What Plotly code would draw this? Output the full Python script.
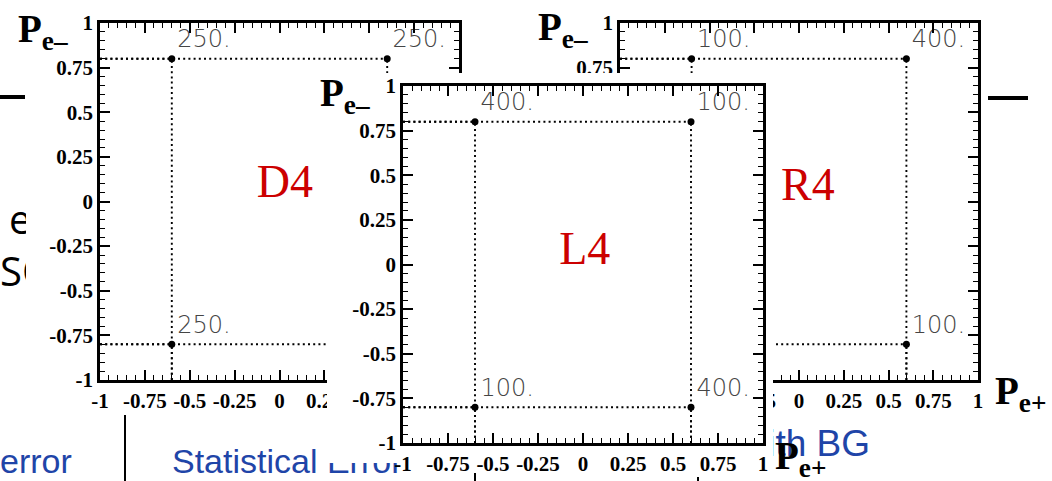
import plotly.graph_objects as go

W, H = 1052, 481

# Beam polarisation of the four running configurations (P_e+, P_e-)
pos_pol = [-0.6, 0.6, -0.6, 0.6]
ele_pol = [0.8, 0.8, -0.8, -0.8]

# Luminosity share (fb^-1) per configuration for each run scenario
lumi_D4 = [250, 250, 250, 250]
lumi_R4 = [100, 400, 400, 100]
lumi_L4 = [400, 100, 100, 400]

tick_vals = [-1, -0.75, -0.5, -0.25, 0, 0.25, 0.5, 0.75, 1]
tick_text = ["-1", "-0.75", "-0.5", "-0.25", "0", "0.25", "0.5", "0.75", "1"]

BLUE = "#1f45a8"
RED = "#cc0000"


def xdom(a, b):
    return [a / W, b / W]


def ydom(top, bottom):
    return [1 - bottom / H, 1 - top / H]


fig = go.Figure()

# ---- slide layer behind the panels -------------------------------------
slide_texts = [
    ("error", 0, 464, "middle right", 34, BLUE, "Liberation Sans"),
    ("Statistical Error", 172, 464, "middle right", 34, BLUE, "Liberation Sans"),
    ("with BG", 870, 447, "middle left", 37, BLUE, "Liberation Sans"),
    ("e", 9, 224, "middle right", 40, "black", "Open Sans"),
    ("SO", 0, 276, "middle right", 40, "black", "Open Sans"),
]
for txt, x, y, tp, size, col, fam in slide_texts:
    fig.add_trace(go.Scatter(
        x=[x], y=[y], mode="text", text=[txt], textposition=tp,
        textfont=dict(family=fam, size=size, color=col),
        xaxis="x", yaxis="y", hoverinfo="skip", cliponaxis=False))


def blank(n):
    # an empty subplot whose white background acts as a panel sheet
    fig.add_trace(go.Scatter(x=[0], y=[0], mode="markers",
                             marker=dict(opacity=0), hoverinfo="skip",
                             xaxis=f"x{n}", yaxis=f"y{n}"))


def panel(n, lumi, tag, tag_x, tag_y):
    xs, ys = [], []
    for px, py in zip(pos_pol, ele_pol):
        xs += [px, px, None, -1, px, None]
        ys += [-1, py, None, py, py, None]
    fig.add_trace(go.Scatter(
        x=xs, y=ys, mode="lines",
        line=dict(color="black", width=1.9, dash="2px,3.2px"),
        xaxis=f"x{n}", yaxis=f"y{n}", hoverinfo="skip"))
    fig.add_trace(go.Scatter(
        x=pos_pol, y=ele_pol, mode="markers+text",
        text=[f"{v}." for v in lumi], textposition="top right",
        marker=dict(color="black", size=7),
        textfont=dict(family="DejaVu Sans", size=24, color="#454545", weight=200),
        xaxis=f"x{n}", yaxis=f"y{n}", cliponaxis=False, hoverinfo="skip"))
    fig.add_trace(go.Scatter(
        x=[tag_x], y=[tag_y], mode="text", text=[tag],
        textfont=dict(family="Liberation Serif", size=46, color=RED),
        xaxis=f"x{n}", yaxis=f"y{n}", cliponaxis=False, hoverinfo="skip"))


blank(2)
panel(3, lumi_D4, "D4", 0.03, 0.09)
panel(4, lumi_R4, "R4", 0.05, 0.075)
blank(5)
panel(6, lumi_L4, "L4", 0.01, 0.065)

hidden = dict(visible=False, fixedrange=True)
frame_axis = dict(
    range=[-1, 1], showline=True, linecolor="black", linewidth=2.5,
    mirror="allticks", ticks="inside", ticklen=10, tickwidth=1.5,
    tickcolor="black", tickmode="array", tickvals=tick_vals,
    ticktext=tick_text,
    tickfont=dict(family="Liberation Serif", size=21, color="black",
                  weight="bold"),
    showgrid=False, zeroline=False, fixedrange=True,
    minor=dict(ticks="inside", ticklen=5, tickwidth=1.2, tickcolor="black",
               tickmode="linear", tick0=0, dtick=0.05, showgrid=False),
)

fig.update_layout(
    width=W, height=H,
    margin=dict(l=0, r=0, t=0, b=0, autoexpand=False),
    paper_bgcolor="white", plot_bgcolor="white", showlegend=False,
    xaxis=dict(domain=[0, 1], range=[0, W], **hidden),
    yaxis=dict(domain=[0, 1], range=[H, 0], **hidden),
    xaxis2=dict(domain=xdom(26, 464), anchor="y2", **hidden),
    yaxis2=dict(domain=ydom(4, 412), anchor="x2", **hidden),
    xaxis3=dict(domain=xdom(100, 459), anchor="y3", **frame_axis),
    yaxis3=dict(domain=ydom(23, 380), anchor="x3", **frame_axis),
    xaxis4=dict(domain=xdom(620, 978), anchor="y4", **frame_axis),
    yaxis4=dict(domain=ydom(23, 380), anchor="x4", **frame_axis),
    xaxis5=dict(domain=xdom(327, 773), anchor="y5", **hidden),
    yaxis5=dict(domain=ydom(73, 463), anchor="x5", **hidden),
    xaxis6=dict(domain=xdom(403, 763), anchor="y6", **frame_axis),
    yaxis6=dict(domain=ydom(86, 443), anchor="x6", **frame_axis),
)

# slide rules and separators
for x0, y0, x1, y1, w in [(0, 97, 25, 97, 4), (988, 98, 1028, 98, 4),
                          (125, 415, 125, 481, 2), (475, 473, 475, 481, 2),
                          (698, 477, 698, 481, 2)]:
    fig.add_shape(type="line", xref="paper", yref="paper",
                  x0=x0 / W, x1=x1 / W, y0=1 - y0 / H, y1=1 - y1 / H,
                  line=dict(color="black", width=w), layer="below")

# axis titles P_e- / P_e+
for txt, x, y in [("P<sub>e–</sub>", 16, 5), ("P<sub>e–</sub>", 536, 3),
                  ("P<sub>e–</sub>", 318, 69), ("P<sub>e+</sub>", 993, 367),
                  ("P<sub>e+</sub>", 773, 432)]:
    fig.add_annotation(text=f"<b>{txt}</b>", xref="paper", yref="paper",
                       x=x / W, y=1 - y / H, xanchor="left", yanchor="top",
                       showarrow=False,
                       font=dict(family="Liberation Serif", size=39,
                                 color="black"))

fig.write_html("out.html")
